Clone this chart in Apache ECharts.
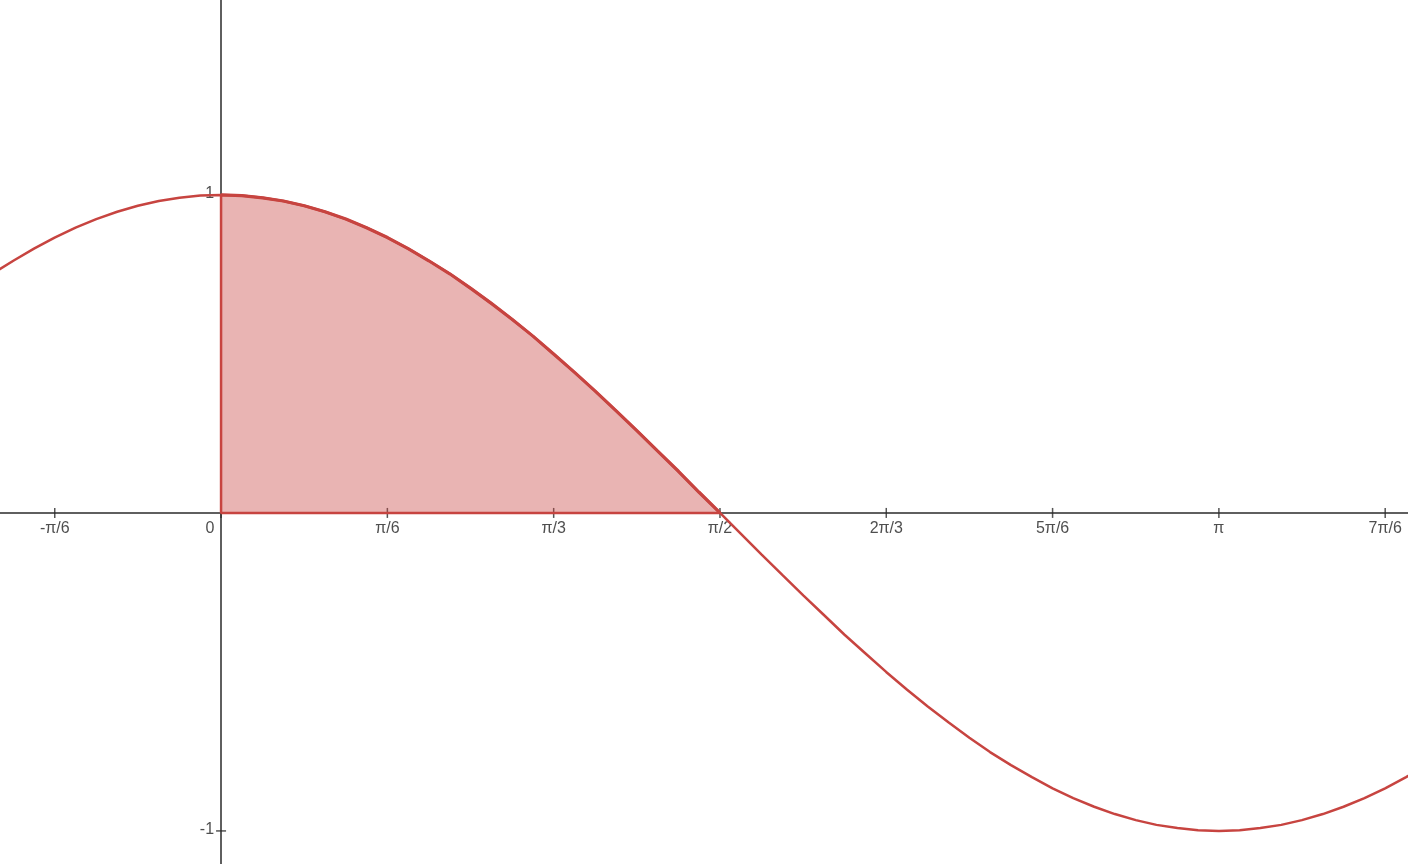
<!doctype html>
<html>
<head>
  <meta charset="UTF-8" />
  <title>cos x</title>
  <script src="https://cdn.jsdelivr.net/npm/echarts@6.0.0/dist/echarts.min.js"></script>
  <style>
    html, body { margin: 0; padding: 0; background: #ffffff; }
    #chart { width: 1408px; height: 864px; }
  </style>
</head>
<body>
  <div id="chart"></div>
  <script>
    // points (x in radians)
    const xValues = [-0.720, -0.654, -0.589, -0.524, -0.458, -0.393, -0.327, -0.262, -0.196, -0.131, -0.065,
      0, 0.065, 0.131, 0.196, 0.262, 0.327, 0.393, 0.458, 0.524, 0.589, 0.654, 0.720, 0.785,
      0.851, 0.916, 0.982, 1.047, 1.113, 1.178, 1.244, 1.309, 1.374, 1.440, 1.505, 1.571,
      1.636, 1.702, 1.767, 1.833, 1.898, 1.963, 2.029, 2.094, 2.160, 2.225, 2.291, 2.356,
      2.421, 2.487, 2.553, 2.618, 2.683, 2.749, 2.814, 2.880, 2.945, 3.011, 3.076, 3.142,
      3.207, 3.272, 3.338, 3.403, 3.469, 3.534, 3.600, 3.665, 3.731, 3.796];
    const yValues = [0.752, 0.793, 0.831, 0.866, 0.897, 0.924, 0.947, 0.966, 0.981, 0.991, 0.998,
      1, 0.998, 0.991, 0.981, 0.966, 0.947, 0.924, 0.897, 0.866, 0.831, 0.793, 0.752, 0.707,
      0.659, 0.609, 0.556, 0.5, 0.442, 0.383, 0.321, 0.259, 0.195, 0.131, 0.065, 0,
      -0.065, -0.131, -0.195, -0.259, -0.321, -0.383, -0.442, -0.5, -0.556, -0.609, -0.659, -0.707,
      -0.752, -0.793, -0.831, -0.866, -0.897, -0.924, -0.947, -0.966, -0.981, -0.991, -0.998, -1,
      -0.998, -0.991, -0.981, -0.966, -0.947, -0.924, -0.897, -0.866, -0.831, -0.793];

    // shaded region runs from x = 0 to x = π/2
    const shadeFrom = 0;
    const shadeTo = 1.571;

    const xTickLabels = ["-π/6", "0", "π/6", "π/3", "π/2", "2π/3", "5π/6", "π", "7π/6"];
    const xTickValues = [-1, 0, 1, 2, 3, 4, 5, 6, 7].map((k) => k * Math.PI / 6);
    const yTickLabels = ["-1", "1"];
    const yTickValues = [-1, 1];

    const chart = echarts.init(document.getElementById("chart"));

    const curve = xValues.map((x, i) => [x, yValues[i]]);
    const shade = curve.filter((p) => p[0] >= shadeFrom - 1e-6 && p[0] <= shadeTo + 1e-6);

    const red = "#c74440";
    const axisColor = "#2a2a2a";
    const font = "'Liberation Sans', Arial, sans-serif";
    const labelStyle = { color: "#222", fontSize: 16, fontFamily: font };

    // tick marks cross the axis, so they are drawn as thin rects on the axis lines
    const xTicks = xTickValues.map((v, i) => ({
      value: [v, 0],
      label: {
        show: true,
        position: "bottom",
        distance: 3,
        formatter: xTickLabels[i],
        offset: xTickLabels[i] === "0" ? [-11, 0] : [0, 0],
        ...labelStyle,
      },
    }));
    const yTicks = yTickValues.map((v, i) => ({
      value: [0, v],
      label: {
        show: true,
        position: "left",
        distance: 2,
        formatter: yTickLabels[i],
        offset: [0, -1],
        ...labelStyle,
      },
    }));

    const option = {
      animation: false,
      grid: { left: 0, right: 0, top: 0, bottom: 0, containLabel: false, outerBoundsMode: "none" },
      xAxis: {
        type: "value",
        min: -0.696,
        max: 3.737,
        splitLine: { show: false },
        axisTick: { show: false },
        axisLabel: { show: false },
        axisLine: { onZero: true, lineStyle: { color: axisColor, width: 1.5 } },
      },
      yAxis: {
        type: "value",
        min: -1.104,
        max: 1.613,
        splitLine: { show: false },
        axisTick: { show: false },
        axisLabel: { show: false },
        axisLine: { onZero: true, lineStyle: { color: axisColor, width: 1.5 } },
      },
      series: [
        {
          type: "scatter",
          data: xTicks,
          symbol: "rect",
          symbolSize: [1.5, 10],
          itemStyle: { color: axisColor },
          silent: true,
          z: 2,
        },
        {
          type: "scatter",
          data: yTicks,
          symbol: "rect",
          symbolSize: [10, 1.5],
          itemStyle: { color: axisColor },
          silent: true,
          z: 2,
        },
        {
          type: "line",
          data: shade,
          symbol: "none",
          lineStyle: { color: red, width: 3.2 },
          areaStyle: { color: red, opacity: 0.4, origin: 0 },
          z: 3,
        },
        {
          type: "line",
          data: [[shadeFrom, 1], [shadeFrom, 0], [shadeTo, 0]],
          symbol: "none",
          lineStyle: { color: red, width: 2.5 },
          z: 4,
        },
        {
          type: "line",
          data: curve,
          symbol: "none",
          lineStyle: { color: red, width: 2.5 },
          z: 5,
        },
      ],
    };

    chart.setOption(option);
  </script>
</body>
</html>
